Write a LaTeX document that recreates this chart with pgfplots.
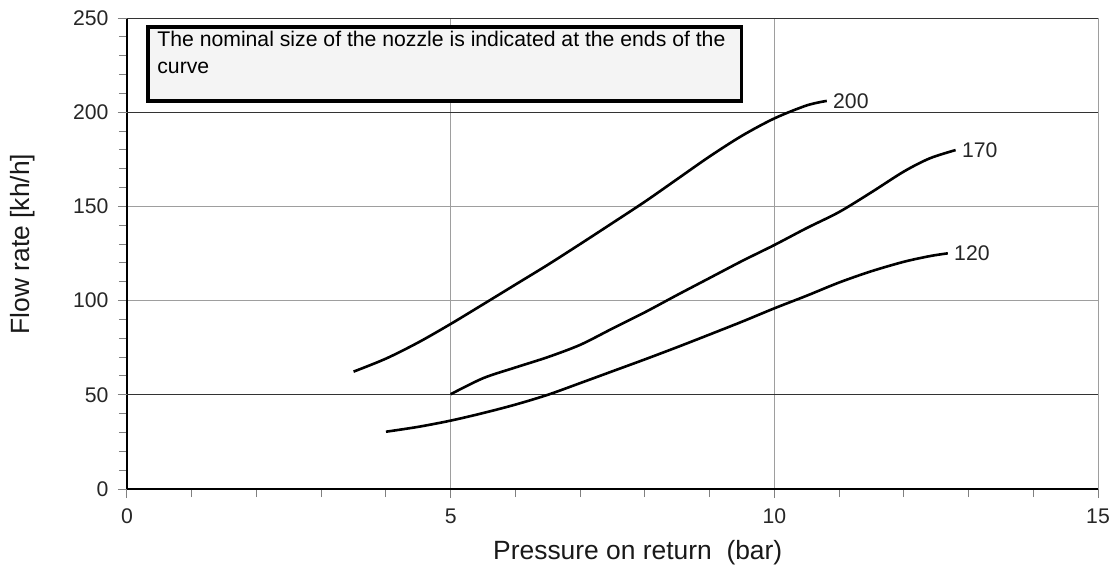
\documentclass[border=0pt]{standalone}
\usepackage{fontspec}
\setmainfont{Liberation Sans}
\usepackage{pgfplots}
\pgfplotsset{compat=1.18}
\definecolor{boxfill}{HTML}{F4F4F4}
\begin{document}
\begin{tikzpicture}
\begin{axis}[
  scale only axis, width=485.5pt, height=235.5pt,
  xmin=0, xmax=15, ymin=0, ymax=250,
  xtick={0,5,10,15}, ytick={0,50,...,250},
  minor x tick num=4, minor y tick num=4,
  axis x line=bottom, axis y line=left,
  axis line style={-, black, line width=0.6pt},
  xmajorgrids, ymajorgrids,
  major grid style={color=black!38, line width=0.5pt},
  extra y ticks={50,200,250}, extra y tick labels={},
  extra y tick style={grid=major, major grid style={color=black!80, line width=0.5pt}},
  tick align=outside, major tick length=4.5pt, minor tick length=4pt,
  every tick/.style={black!50, line width=0.5pt},
  /pgf/number format/assume math mode=true,
  tick label style={font=\fontsize{10.6}{12}\selectfont, text=black!85},
  yticklabel style={xshift=-1.2pt},
  xticklabel style={yshift=-2pt},
  xlabel={Pressure on return\ \ (bar)},
  ylabel={Flow rate [kh/h]},
  label style={font=\fontsize{13.2}{15}\selectfont, text=black!90},
  xlabel style={at={(axis description cs:0.526,-0.1507)}, anchor=base},
  ylabel style={at={(axis description cs:-0.1006,0.52)}, anchor=base},
  clip=false,
]
\addplot[black, line width=1.3pt, smooth, tension=0.5] coordinates {
 (3.5,62.3) (4.0,69.2) (4.5,77.8) (5.0,87.6) (5.5,98.0) (6.0,108.5) (6.5,119.0)
 (7.0,130.0) (7.5,141.2) (8.0,152.5) (8.5,164.5) (9.0,176.5) (9.5,187.5)
 (10.0,196.7) (10.5,203.6) (10.81,206)
};
\addplot[black, line width=1.3pt, smooth, tension=0.5] coordinates {
 (5.0,50.3) (5.5,58.8) (6.0,64.5) (6.5,70.0) (7.0,76.5) (7.5,85.2) (8.0,93.8)
 (8.5,103.0) (9.0,112.0) (9.5,121.0) (10.0,129.5) (10.5,138.5) (11.0,147.0)
 (11.5,157.5) (12.0,168.5) (12.4,175.5) (12.8,179.9)
};
\addplot[black, line width=1.3pt, smooth, tension=0.5] coordinates {
 (4.0,30.4) (4.5,33.0) (5.0,36.3) (5.5,40.3) (6.0,44.8) (6.5,50.0) (7.0,56.2)
 (7.5,62.5) (8.0,68.8) (8.5,75.3) (9.0,82.0) (9.5,88.8) (10.0,95.9) (10.5,102.6)
 (11.0,109.6) (11.5,115.6) (12.0,120.6) (12.4,123.6) (12.68,125.1)
};
\node[anchor=west, inner sep=0, xshift=3pt, font=\fontsize{10.6}{12}\selectfont, text=black!85] at (axis cs:10.81,206) {200};
\node[anchor=west, inner sep=0, xshift=3pt, font=\fontsize{10.6}{12}\selectfont, text=black!85] at (axis cs:12.8,179.9) {170};
\node[anchor=west, inner sep=0, xshift=3pt, font=\fontsize{10.6}{12}\selectfont, text=black!85] at (axis cs:12.68,125.1) {120};
\draw[line width=1.7pt, fill=boxfill] (axis cs:0.324,205.9) rectangle (axis cs:9.49,245.2);
\node[anchor=north west, inner sep=0, align=left, font=\fontsize{10.6}{13.5}\selectfont] at (axis cs:0.463,243.3)
 {The nominal size of the nozzle is indicated at the ends of the\\curve};
\coordinate (SW) at (rel axis cs:0,0);
\coordinate (NE) at (rel axis cs:1,1);
\end{axis}
\pgfresetboundingbox
\path ([shift={(-63.5pt,-39.5pt)}]SW) rectangle ([shift={(7pt,9pt)}]NE);
\end{tikzpicture}
\end{document}
